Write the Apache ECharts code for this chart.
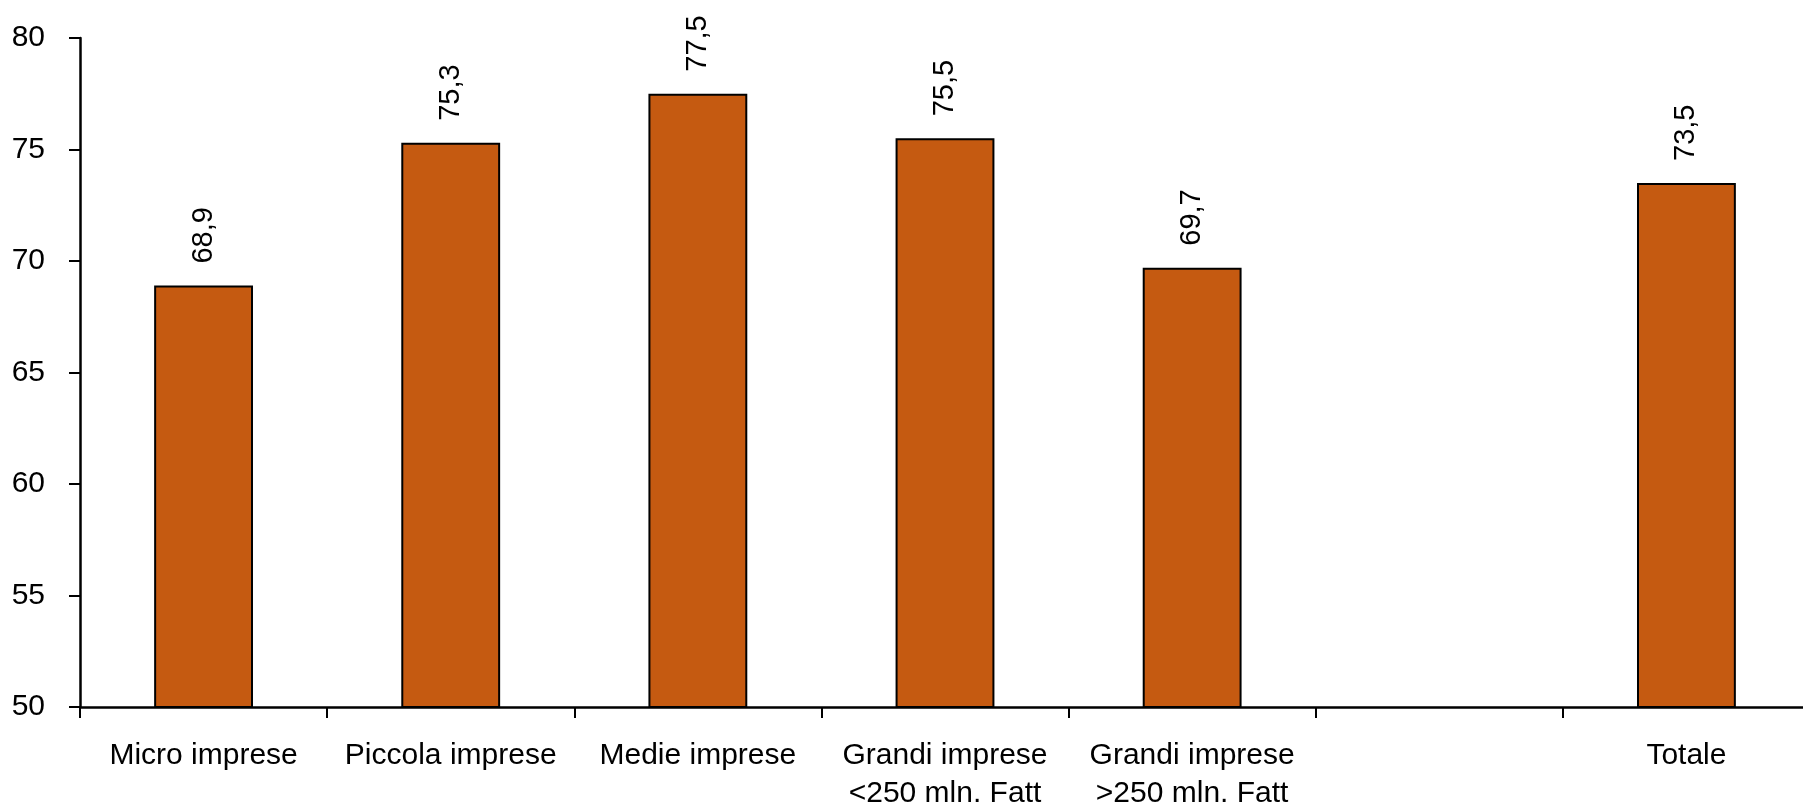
<!DOCTYPE html>
<html>
<head>
<meta charset="utf-8">
<script src="https://cdn.jsdelivr.net/npm/echarts@6/dist/echarts.min.js"></script>
<style>
html,body{margin:0;padding:0;background:#fff;}
#c{width:1803px;height:807px;}
</style>
</head>
<body>
<div id="c"></div>
<script>
const categories = ['Micro imprese', 'Piccola imprese', 'Medie imprese', 'Grandi imprese\n<250 mln. Fatt', 'Grandi imprese\n>250 mln. Fatt', '', 'Totale'];
const values = [68.9, 75.3, 77.5, 75.5, 69.7, null, 73.5];
const yTicks = { min: 50, max: 80, interval: 5 };

const FONT = '"Liberation Sans", Arial, sans-serif';
const chart = echarts.init(document.getElementById('c'), null, { renderer: 'canvas' });
chart.setOption({
  animation: false,
  backgroundColor: '#ffffff',
  grid: { left: 80, top: 38, bottom: 100, width: 1730, containLabel: false, outerBoundsMode: 'none' },
  xAxis: {
    type: 'category',
    data: categories,
    boundaryGap: true,
    axisLine: { lineStyle: { color: '#000', width: 2.5 } },
    axisTick: { show: true, alignWithLabel: false, length: 11, lineStyle: { color: '#000', width: 2 } },
    axisLabel: { color: '#000', fontSize: 30, fontFamily: FONT, margin: 30, lineHeight: 38, interval: 0 },
    splitLine: { show: false }
  },
  yAxis: {
    type: 'value',
    min: yTicks.min, max: yTicks.max, interval: yTicks.interval,
    axisLine: { show: true, lineStyle: { color: '#000', width: 2.5 } },
    axisTick: { show: true, length: 11, lineStyle: { color: '#000', width: 2 } },
    axisLabel: { color: '#000', fontSize: 30, fontFamily: FONT, margin: 35 },
    splitLine: { show: false }
  },
  series: [{
    type: 'bar',
    data: values,
    barWidth: '40%',
    itemStyle: { color: '#C55A11', borderColor: '#000', borderWidth: 2 },
    label: {
      show: true,
      position: 'top',
      rotate: 90,
      align: 'left',
      verticalAlign: 'middle',
      distance: 22,
      color: '#000',
      fontSize: 29,
      fontFamily: FONT,
      formatter: p => p.value == null ? '' : p.value.toFixed(1).replace('.', ',')
    }
  }]
});
</script>
</body>
</html>
